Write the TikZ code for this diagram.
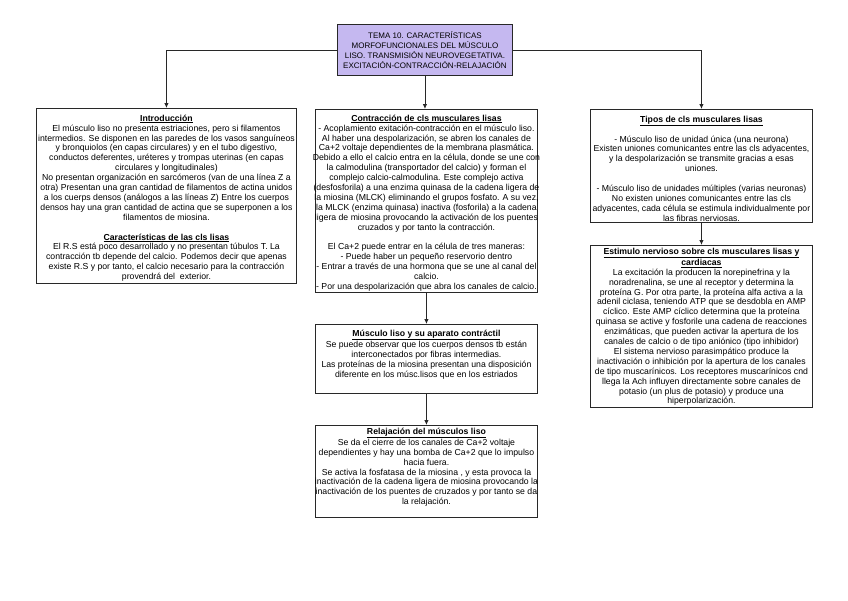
\documentclass[tikz,border=0pt]{standalone}
\usepackage{fontspec}
\setmainfont{Liberation Sans}
\usetikzlibrary{arrows.meta}
\definecolor{lav}{RGB}{197,184,240}
\definecolor{edge}{RGB}{40,40,40}
\tikzset{
  boxn/.style={draw=edge, line width=0.9pt, fill=white, inner sep=0pt, anchor=north west},
  txt/.style={font=\fontsize{8.7}{9.9}\selectfont, align=center, inner sep=0pt, anchor=north},
  ttl/.style={font=\fontsize{8}{10}\selectfont, align=center, inner sep=0pt},
  conn/.style={draw=edge, line width=0.9pt, -{Latex[length=5pt,width=4.5pt]}},
}
\newcommand{\hd}[1]{\underline{\textbf{#1}}}
\newcommand{\fs}{\rule{0pt}{8pt}}
\begin{document}
\begin{tikzpicture}[x=1pt,y=-1pt]
\useasboundingbox (0,0) rectangle (848,600);
% boxes
\node[boxn, fill=lav, minimum width=175pt, minimum height=51pt] (title) at (337,24) {};
\node[boxn, minimum width=260pt, minimum height=175pt] (intro) at (36,108) {};
\node[boxn, minimum width=222pt, minimum height=183pt] (contr) at (315,109) {};
\node[boxn, minimum width=222pt, minimum height=69pt] (apar) at (315,324) {};
\node[boxn, minimum width=222pt, minimum height=92pt] (relaj) at (315,425) {};
\node[boxn, minimum width=222pt, minimum height=113pt] (tipos) at (590,109) {};
\node[boxn, minimum width=222pt, minimum height=162pt] (estim) at (590,245) {};
% texts
\node[ttl] (titlet) at (title.center) {TEMA 10. CARACTERÍSTICAS\\MORFOFUNCIONALES DEL MÚSCULO\\LISO. TRANSMISIÓN NEUROVEGETATIVA.\\EXCITACIÓN-CONTRACCIÓN-RELAJACIÓN};
\node[txt] (introt) at ([yshift=-5pt]intro.north) {\fs\hd{Introducción}\\
El músculo liso no presenta estriaciones, pero si filamentos\\
intermedios. Se disponen en las paredes de los vasos sanguíneos\\
y bronquiolos (en capas circulares) y en el tubo digestivo,\\
conductos deferentes, uréteres y trompas uterinas (en capas\\
circulares y longitudinales)\\
No presentan organización en sarcómeros (van de una línea Z a\\
otra) Presentan una gran cantidad de filamentos de actina unidos\\
a los cuerps densos (análogos a las líneas Z) Entre los cuerpos\\
densos hay una gran cantidad de actina que se superponen a los\\
filamentos de miosina.\\
~\\
\hd{Características de las cls lisas}\\
El R.S está poco desarrollado y no presentan túbulos T. La\\
contracción tb depende del calcio. Podemos decir que apenas\\
existe R.S y por tanto, el calcio necesario para la contracción\\
provendrá del\ \ exterior.};
\node[txt] (contrt) at ([yshift=-4pt]contr.north) {\fs\hd{Contracción de cls musculares lisas}\\
- Acoplamiento exitación-contracción en el músculo liso.\\
Al haber una despolarización, se abren los canales de\\
Ca+2 voltaje dependientes de la membrana plasmática.\\
Debido a ello el calcio entra en la célula, donde se une con\\
la calmodulina (transportador del calcio) y forman el\\
complejo calcio-calmodulina. Este complejo activa\\
(desfosforila) a una enzima quinasa de la cadena ligera de\\
la miosina (MLCK) eliminando el grupos fosfato. A su vez,\\
la MLCK (enzima quinasa) inactiva (fosforila) a la cadena\\
ligera de miosina provocando la activación de los puentes\\
cruzados y por tanto la contracción.\\
~\\
El Ca+2 puede entrar en la célula de tres maneras:\\
- Puede haber un pequeño reservorio dentro\\
- Entrar a través de una hormona que se une al canal del\\
calcio.\\
- Por una despolarización que abra los canales de calcio.};
\node[txt] (apart) at ([yshift=-4pt]apar.north) {\fs\hd{Músculo liso y su aparato contráctil}\\
Se puede observar que los cuerpos densos tb están\\
interconectados por fibras intermedias.\\
Las proteínas de la miosina presentan una disposición\\
diferente en los músc.lisos que en los estriados};
\node[txt] (relajt) at ([yshift=-1pt]relaj.north) {\fs\hd{Relajación del músculos liso}\\
Se da el cierre de los canales de Ca+2 voltaje\\
dependientes y hay una bomba de Ca+2 que lo impulso\\
hacia fuera.\\
Se activa la fosfatasa de la miosina , y esta provoca la\\
inactivación de la cadena ligera de miosina provocando la\\
inactivación de los puentes de cruzados y por tanto se da\\
la relajación.};
\node[txt] (tipost) at ([yshift=-5pt]tipos.north) {\fs\hd{Tipos de cls musculares lisas}\\
~\\
- Músculo liso de unidad única (una neurona)\\
Existen uniones comunicantes entre las cls adyacentes,\\
y la despolarización se transmite gracias a esas\\
uniones.\\
~\\
- Músculo liso de unidades múltiples (varias neuronas)\\
No existen uniones comunicantes entre las cls\\
adyacentes, cada célula se estimula individualmente por\\
las fibras nerviosas.};
\node[txt] (estimt) at ([yshift=-1pt]estim.north) {\fs\hd{Estimulo nervioso sobre cls musculares lisas y}\\
\hd{cardiacas}\\
La excitación la producen la norepinefrina y la\\
noradrenalina, se une al receptor y determina la\\
proteína G. Por otra parte, la proteína alfa activa a la\\
adenil ciclasa, teniendo ATP que se desdobla en AMP\\
cíclico. Este AMP cíclico determina que la proteína\\
quinasa se active y fosforile una cadena de reacciones\\
enzimáticas, que pueden activar la apertura de los\\
canales de calcio o de tipo aniónico (tipo inhibidor)\\
El sistema nervioso parasimpático produce la\\
inactivación o inhibición por la apertura de los canales\\
de tipo muscarínicos. Los receptores muscarínicos cnd\\
llega la Ach influyen directamente sobre canales de\\
potasio (un plus de potasio) y produce una\\
hiperpolarización.};
% connectors
\draw[conn] (title.west) -| (intro.north);
\draw[conn] (title.east) -| (tipos.north);
\draw[conn] (title.south) -- (title.south |- contr.north);
\draw[conn] (contr.south) -- (apar.north);
\draw[conn] (apar.south) -- (relaj.north);
\draw[conn] (tipos.south) -- (estim.north);
\end{tikzpicture}
\end{document}
